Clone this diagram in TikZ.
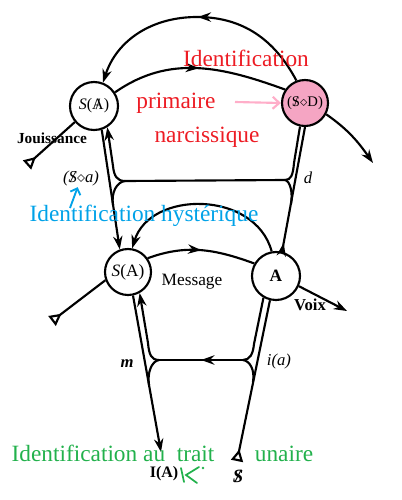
\documentclass[tikz,border=0pt]{standalone}
\usepackage{fontspec}
\setmainfont{Liberation Serif}
\usetikzlibrary{arrows.meta,decorations.markings}

\definecolor{idred}{RGB}{237,28,36}
\definecolor{idblue}{RGB}{0,162,232}
\definecolor{idgreen}{RGB}{34,177,76}
\definecolor{idpink}{RGB}{245,165,195}
\definecolor{pinkline}{RGB}{255,174,201}

\newcommand{\barS}{\ooalign{S\cr\hidewidth/\hidewidth\cr}}
\newcommand{\barA}{\ooalign{A\cr\hidewidth/\hidewidth\cr}}

\tikzset{
  vec/.style={line width=1.6pt},
  endtip/.style={-{Stealth[length=10pt,width=7pt]}},
  triend/.style={-{Triangle[open,reversed,length=9pt,width=9pt]}},
  midarrow/.style={postaction={decorate},decoration={markings,mark=at position #1 with {\arrow{Stealth[length=10pt,width=7pt]}}}},
  spot/.style={circle,draw,line width=1.6pt,inner sep=0pt},
  lbl/.style={inner sep=1pt,font=\fontsize{12.5}{14}\selectfont\itshape},
  lab/.style={inner sep=0.5pt,font=\fontsize{12}{14}\selectfont\bfseries},
  ident/.style={inner sep=0pt,font=\fontsize{17.5}{20}\selectfont}
}

\begin{document}
\begin{tikzpicture}[x=0.75pt,y=-0.75pt]
\useasboundingbox (0,0) rectangle (401,500);

% the four places
\node[spot,minimum size=36pt] (sbarA) at (94,106) {\fontsize{12}{14}\selectfont\textit{S}(\barA)};
\node[spot,fill=idpink,minimum size=34.5pt] (sod) at (305,103) {\fontsize{11}{13}\selectfont(\barS$\diamond$D)};
\node[spot,minimum size=34.5pt] (sA) at (128,272) {\fontsize{13}{15}\selectfont\textit{S}(A)};
\node[spot,minimum size=36pt] (bigA) at (276,276) {\fontsize{13}{15}\selectfont\textbf{A}};

\coordinate (top) at (197,17);
\coordinate (castr) at (373,163);
\coordinate (jtri) at (27,165);
\coordinate (ltri) at (52,321);
\coordinate (btri) at (237,461);
\coordinate (voix) at (347,311);
\coordinate (IA) at (161,452);
\coordinate (j1) at (125,181);
\coordinate (j2) at (285,180);
\coordinate (j3) at (159,360);
\coordinate (j4) at (243,360);

% upper level
\draw[vec,endtip,midarrow=0.5] (sod.111) to[out=118,in=0] (top) to[out=180,in=72] (sbarA.69);
\draw[vec,endtip] (sod.-28) to[out=-35,in=125] (castr);
\draw[vec,midarrow=0.5] (sbarA.33) to[out=35,in=160] (sod.146);
\draw[vec,triend] (sbarA.-140) -- (jtri);

% upper pairs
\draw[vec,endtip] (sbarA.-72) -- (sA.110);
\draw[vec,endtip] (j1) .. controls (117,181) and (114,176) .. (113,166) -- (sbarA.-58);
\draw[vec] (j1) .. controls (117,182) and (111,192) .. (113,205);
\draw[vec] (j1) -- (j2);
\draw[vec] (j2) .. controls (291,180) and (293,175) .. (294,163) -- (sod.-102);
\draw[vec] (j2) .. controls (290,181) and (293,192) .. (291,204);
\draw[vec,midarrow=0.07] (bigA.76) -- (sod.-90);

% lower level
\draw[vec,endtip] (bigA.100) .. controls (255,190) and (150,190) .. (sA.80);
\draw[vec,midarrow=0.5] (sA.35) to[out=20,in=160] (bigA.150);
\draw[vec,endtip] (bigA.-24) -- (voix);
\draw[vec,triend] (sA.-160) -- (ltri);

% lower pairs
\draw[vec,endtip] (sA.-78) -- (IA);
\draw[vec,endtip] (j3) .. controls (151,360) and (149,354) .. (148,343) -- (sA.-61);
\draw[vec] (j3) .. controls (152,361) and (147,372) .. (149,385);
\draw[vec,midarrow=0.5] (j4) -- (j3);
\draw[vec] (j4) .. controls (250,360) and (253,354) .. (254,344) -- (bigA.-120);
\draw[vec] (j4) .. controls (250,361) and (255,370) .. (253,382);
\draw[vec,triend] (bigA.-104) -- (btri);

% labels
\node[lab,font=\fontsize{11.5}{13}\selectfont\bfseries] (jouis) at (52,138) {Jouissance};
\node[inner sep=1pt,font=\fontsize{13}{15}\selectfont] (message) at (192,282) {Message};
\node[lab,font=\fontsize{12.5}{14}\selectfont\bfseries] (voixlbl) at (310,305) {Voix};
\node[lbl] (sdiama) at (81,178) {(\barS$\diamond$a)};
\node[lbl] (dlbl) at (308,178) {d};
\node[lbl] (mlbl) at (127,364) {\bfseries m};
\node[lbl] (ialbl) at (279,361) {i(a)};
\node[lab] (IAlbl) at (164,474) {I(A)};
\node[lab,font=\fontsize{14}{16}\selectfont\bfseries\itshape] (Slbl) at (238,476) {\barS};

% coloured notes
\node[ident,text=idred] (idprim) at (246,58) {Identification};
\node[ident,text=idred] (primaire) at (176,103) {primaire};
\node[ident,text=idred] (narc) at (207,137) {narcissique};
\coordinate (pinkfrom) at (235,102);
\draw[pinkline,line width=1.6pt,-{Straight Barb[length=5pt,width=9pt]}] (pinkfrom) -- (sod.180);

\node[ident,text=idblue] (idhyst) at (144,216) {Identification hystérique};
\coordinate (bluefrom) at (70,208);
\draw[idblue,line width=1.4pt,-{Straight Barb[length=4pt,width=8pt]}] (bluefrom) -- (sdiama.-110);

\node[ident,text=idgreen] (idtrait) at (113,453) {Identification au\ \ trait};
\node[ident,text=idgreen] (unaire) at (284,454) {unaire};
\draw[idgreen,line width=1.3pt,line cap=round] (181,468) -- (184,482) (199,467) -- (186,475) -- (197,483);
\fill[idgreen] (203,468) circle (1pt);
\end{tikzpicture}
\end{document}
